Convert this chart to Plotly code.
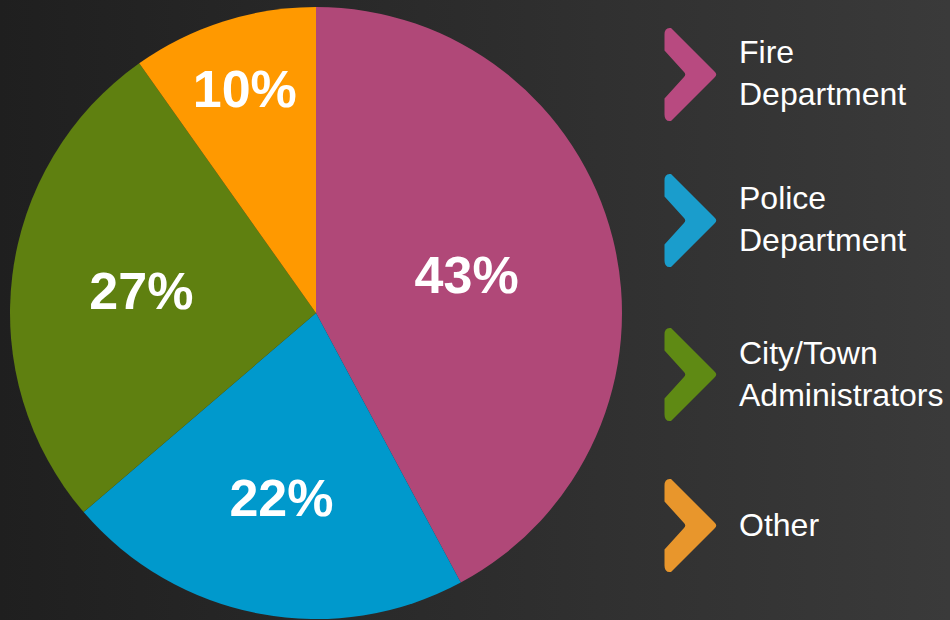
import plotly.graph_objects as go
import base64

# ---- data ----
categories = ["Fire Department", "Police Department", "City/Town Administrators", "Other"]
legend_labels = ["Fire<br>Department", "Police<br>Department", "City/Town<br>Administrators", "Other"]
values = [43, 22, 27, 10]
pie_colors = ["#b04878", "#0099cc", "#5f8010", "#ff9900"]
icon_colors = ["#b84a80", "#1a9dcc", "#5f8a14", "#e8962c"]

W, H = 950, 620

fig = go.Figure()
fig.add_trace(go.Pie(
    labels=categories,
    values=values,
    sort=False,
    direction="clockwise",
    rotation=0,
    marker=dict(colors=pie_colors, line=dict(width=0)),
    texttemplate="%{value}%",
    textposition="inside",
    insidetextorientation="horizontal",
    textfont=dict(family="Liberation Sans, Arial, sans-serif", size=52, color="white", weight="bold"),
    hoverinfo="label+value",
    showlegend=False,
    domain=dict(x=[10 / W, 622 / W], y=[1 - 619 / H, 1 - 7 / H]),
))

# background gradient
svg = ('<svg xmlns="http://www.w3.org/2000/svg" width="950" height="620" preserveAspectRatio="none">'
       '<defs><linearGradient id="g" x1="0" y1="0" x2="1" y2="0">'
       '<stop offset="0" stop-color="#1f1f1f"/><stop offset="1" stop-color="#3a3a3a"/>'
       '</linearGradient></defs><rect width="950" height="620" fill="url(#g)"/></svg>')
src = "data:image/svg+xml;base64," + base64.b64encode(svg.encode()).decode()

def px(x):
    return x / W

def py(y):
    return 1 - y / H

def chevron(cy):
    pts = [
        ("M", 664.5, cy - 40),
        ("Q", 664.5, cy - 47.5, 671, cy - 46.5),
        ("L", 714.5, cy - 3),
        ("Q", 718, cy, 714.5, cy + 3),
        ("L", 671, cy + 46.5),
        ("Q", 664.5, cy + 47.5, 664.5, cy + 40),
        ("L", 664.5, cy + 24),
        ("L", 684, cy + 2.5),
        ("Q", 686.5, cy, 684, cy - 2.5),
        ("L", 664.5, cy - 24),
    ]
    parts = []
    for p in pts:
        if p[0] == "Q":
            parts.append(f"Q{px(p[1]):.5f},{py(p[2]):.5f} {px(p[3]):.5f},{py(p[4]):.5f}")
        else:
            parts.append(f"{p[0]}{px(p[1]):.5f},{py(p[2]):.5f}")
    return " ".join(parts) + " Z"

item_centers = [74.5, 220.5, 374.5, 525.5]
shapes = []
annotations = []
for i, lab in enumerate(legend_labels):
    cy = item_centers[i]
    shapes.append(dict(type="path", xref="paper", yref="paper", path=chevron(cy),
                       fillcolor=icon_colors[i], line=dict(width=0)))
    annotations.append(dict(x=px(737), y=py(cy - 1), xref="paper", yref="paper",
                            text=lab, showarrow=False, xanchor="left", yanchor="middle",
                            align="left",
                            font=dict(family="Liberation Sans, Arial, sans-serif", size=32, color="white")))

fig.update_layout(
    width=W, height=H,
    margin=dict(l=0, r=0, t=0, b=0),
    paper_bgcolor="#2c2c2c",
    plot_bgcolor="rgba(0,0,0,0)",
    images=[dict(source=src, xref="paper", yref="paper", x=0, y=1, sizex=1, sizey=1,
                 sizing="stretch", xanchor="left", yanchor="top", layer="below")],
    shapes=shapes,
    annotations=annotations,
)

fig.write_html(
    "out.html",
    config={"displayModeBar": False},
    post_script="document.body.style.margin='0';document.body.style.background='#2c2c2c';",
)
